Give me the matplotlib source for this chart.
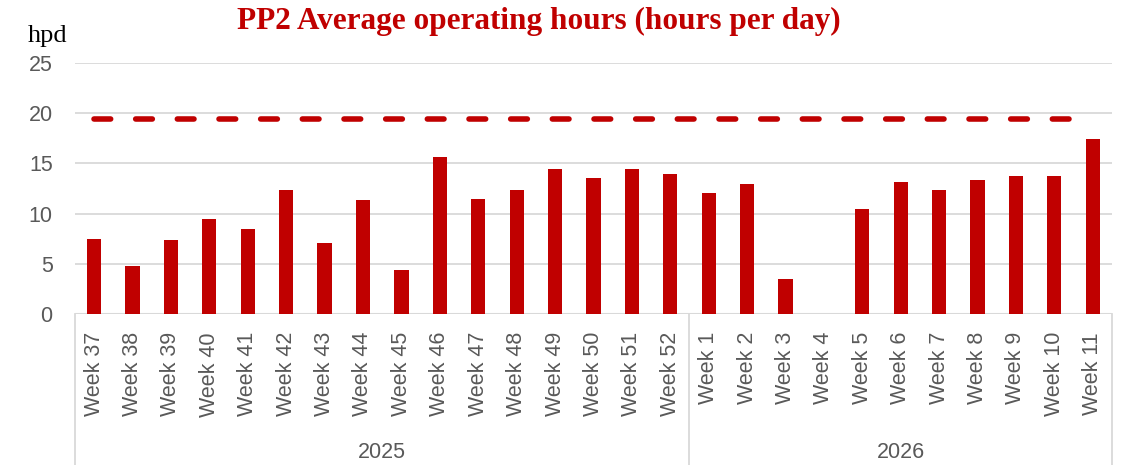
import matplotlib
matplotlib.use("Agg")
import matplotlib.pyplot as plt
import matplotlib.transforms as mtrans

RED, GRID, TXT = "#C00000", "#D9D9D9", "#595959"

weeks_2025 = [f"Week {w}" for w in range(37, 53)]
weeks_2026 = [f"Week {w}" for w in range(1, 12)]
years = ["2025", "2026"]
hours = [7.5, 4.75, 7.4, 9.5, 8.5, 12.35, 7.05, 11.35, 4.35, 15.6, 11.45, 12.4, 14.45,
         13.55, 14.4, 13.95, 12.1, 12.95, 3.45, 0.0, 10.45, 13.1, 12.35, 13.3, 13.7, 13.75, 17.45]
target = 19.4

labels = weeks_2025 + weeks_2026
x = list(range(len(labels)))

fig = plt.figure(figsize=(11.22, 4.65), dpi=100)
ax = fig.add_axes([0.0668, 0.3247, 0.9242, 0.5398])

ax.bar(x, hours, width=0.37, color=RED, zorder=3)
ax.plot(x, [target] * len(x), color=RED, lw=4, dash_capstyle="round",
        dashes=(3.0, 4.5), zorder=4)

ax.set_xlim(-0.5, len(x) - 0.5)
ax.set_ylim(0, 25)
ax.set_yticks([0, 5, 10, 15, 20, 25])
ax.yaxis.grid(True, color=GRID, lw=1.3, zorder=0)
for s in ax.spines.values():
    s.set_visible(False)
ax.axhline(0, color=GRID, lw=1.5, zorder=2)
ax.tick_params(axis="y", length=0, pad=16, labelsize=15.5, labelcolor=TXT)
ax.tick_params(axis="x", length=0, pad=13, labelsize=15.5, labelcolor=TXT)
ax.set_xticks(x)
ax.set_xticklabels(labels, rotation=90, va="top", ha="center")
for t in ax.get_xticklabels() + ax.get_yticklabels():
    t.set_fontfamily("Liberation Sans")

# group separators + year labels
trans = mtrans.blended_transform_factory(ax.transData, fig.transFigure)
bottom_y = 0.3247
for xb in [-0.5, len(weeks_2025) - 0.5, len(x) - 0.5]:
    ax.plot([xb, xb], [0, bottom_y], color=GRID, lw=1.3, transform=trans, clip_on=False)
centers = [(len(weeks_2025) - 1) / 2, len(weeks_2025) + (len(weeks_2026) - 1) / 2]
for c, yr in zip(centers, years):
    ax.text(c, 1 - 452 / 465, yr, transform=trans, ha="center", va="center",
            fontsize=15.5, color=TXT, family="Liberation Sans")

fig.text(0.4804, 1 - 21 / 465, "PP2 Average operating hours (hours per day)",
         ha="center", va="center", color=RED, fontsize=22.5, fontweight="bold",
         family="Liberation Serif")
fig.text(28 / 1122, 1 - 42 / 465, "hpd", ha="left", va="baseline", color="black",
         fontsize=19, family="Liberation Serif")

fig.savefig("out.png", dpi=100, facecolor="white")
